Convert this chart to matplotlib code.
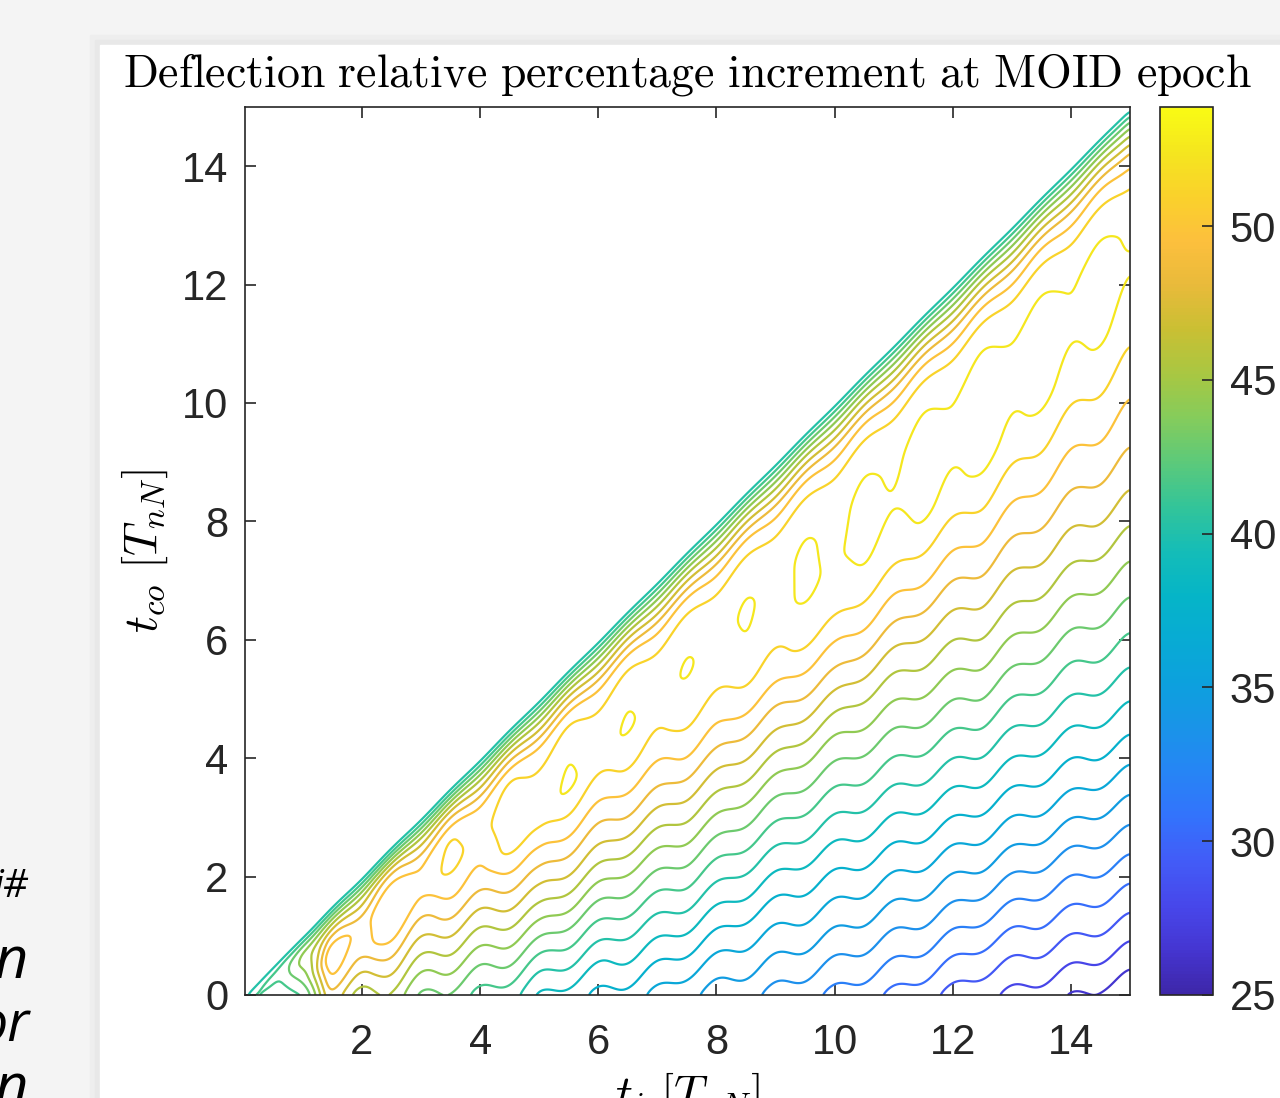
import numpy as np
import matplotlib
matplotlib.use('Agg')
import matplotlib.pyplot as plt
from matplotlib.colors import LinearSegmentedColormap, Normalize
from matplotlib.patches import Rectangle
import matplotlib.cm as cm

plt.rcParams['mathtext.fontset'] = 'cm'
plt.rcParams['font.family'] = 'Liberation Sans'

# parula-like colormap (anchor colours, every 0.05)
parula_rgb = [
    (0.2422, 0.1504, 0.6603), (0.2700, 0.2100, 0.8200), (0.2800, 0.2800, 0.9200),
    (0.2600, 0.3600, 0.9700), (0.2000, 0.4500, 0.9900), (0.1500, 0.5200, 0.9600),
    (0.1000, 0.5800, 0.9100), (0.0500, 0.6300, 0.8700), (0.0300, 0.6700, 0.8300),
    (0.0200, 0.7100, 0.7800), (0.0800, 0.7400, 0.7200), (0.2000, 0.7700, 0.6000),
    (0.3600, 0.7900, 0.4800), (0.5200, 0.8000, 0.3600), (0.6600, 0.7800, 0.2600),
    (0.7900, 0.7500, 0.2000), (0.9100, 0.7300, 0.2300), (0.9900, 0.7500, 0.2400),
    (0.9800, 0.8200, 0.1700), (0.9600, 0.9000, 0.1200), (0.9769, 0.9839, 0.0805),
]
parula = LinearSegmentedColormap.from_list('parula', parula_rgb, N=256)

# colour / level range
z_min = 25.0
z_max = 53.875
n_levels = 20
cbar_ticks = [25, 30, 35, 40, 45, 50]
x_ticks = [2, 4, 6, 8, 10, 12, 14]
y_ticks = [0, 2, 4, 6, 8, 10, 12, 14]

# percentage increment, tabulated against the lag
# d = t_i - t_co, one row per t_i (values past d = t_i only keep rows continuous)
lag_nodes = [-1.0, 0, 0.15, 0.4, 0.8, 1.3, 2, 2.7, 3.5, 4.5, 5.5, 6.5, 7.5, 9, 10.5, 12, 13.5, 15]
ti_nodes = [0.0, 0.6, 1.0, 1.45, 2.2, 3.2, 5.0, 7.5, 10.0, 12.5, 15.0]
pct_ti_00 = [30.0, 39.0, 42.0, 40.6, 38.8, 38.0, 37.5, 37.0, 36.5, 36.0, 35.5, 35.0, 34.5, 34.0, 33.5, 33.0, 32.5, 32.0]
pct_ti_06 = [30.0, 39.0, 42.3, 40.8, 38.8, 38.0, 37.5, 37.0, 36.5, 36.0, 35.5, 35.0, 34.5, 34.0, 33.5, 33.0, 32.5, 32.0]
pct_ti_10 = [30.0, 39.0, 43.2, 46.0, 43.5, 40.0, 38.5, 37.5, 36.5, 35.5, 34.5, 33.5, 32.5, 31.0, 29.5, 28.0, 26.5, 25.0]
pct_ti_14 = [30.0, 39.0, 42.8, 46.5, 50.4, 48.0, 43.5, 40.3, 37.5, 34.7, 31.9, 29.1, 26.3, 22.1, 17.9, 13.7, 9.5, 5.3]
pct_ti_22 = [30.0, 39.0, 43.0, 47.6, 50.3, 50.2, 46.5, 43.3, 40.5, 37.7, 34.9, 32.1, 29.3, 25.1, 20.9, 16.7, 12.5, 8.3]
pct_ti_32 = [30.0, 39.0, 42.6, 47.0, 50.5, 50.8, 48.0, 44.8, 41.4, 38.4, 35.6, 32.8, 30.0, 25.8, 21.6, 17.4, 13.2, 9.0]
pct_ti_50 = [30.0, 39.0, 42.3, 46.2, 50.3, 51.9, 52.3, 49.4, 45.8, 41.0, 36.9, 34.1, 31.3, 27.1, 22.9, 18.7, 14.5, 10.3]
pct_ti_75 = [30.0, 39.0, 42.0, 45.6, 49.6, 51.8, 52.3, 51.6, 49.4, 45.6, 41.9, 38.3, 34.8, 30.6, 26.4, 22.2, 18.0, 13.8]
pct_ti_100 = [30.0, 39.0, 41.9, 45.4, 49.3, 51.6, 52.4, 52.65, 51.7, 48.6, 44.9, 41.75, 38.75, 34.5, 30.25, 26.05, 21.85, 17.65]
pct_ti_125 = [30.0, 39.0, 41.8, 45.2, 49.0, 51.6, 52.9, 53.3, 52.6, 50.4, 47.9, 45.3, 42.6, 38.4, 34.1, 29.5, 25.3, 21.1]
pct_ti_150 = [30.0, 39.0, 41.8, 45.2, 49.0, 51.3, 52.6, 52.9, 52.2, 50.7, 49.1, 47.2, 44.9, 41.5, 37.9, 33.85, 29.7, 25.4]

# ripple along t_i (period 1 T_nN, amplitude)
ripple_period = 1.0
ripple_ti = [0.0, 0.6, 1.45, 2.2, 3.2, 5.0, 7.5, 10.0, 15.0]
ripple_amp = [0.2, 0.35, 1.0, 0.8, 0.6, 0.45, 0.33, 0.3, 0.28]
ripple_taper_lag = [0.0, 0.5]
ripple_taper = [0.2, 1.0]

rows = np.array([pct_ti_00, pct_ti_06, pct_ti_10, pct_ti_14, pct_ti_22, pct_ti_32,
                 pct_ti_50, pct_ti_75, pct_ti_100, pct_ti_125, pct_ti_150])

ti = np.linspace(0, 15, 751)
tco = np.linspace(0, 15, 751)
TI, TCO = np.meshgrid(ti, tco)
LAG = TI - TCO

# along the lag for each table row, then linearly between rows along t_i
per_row = np.array([np.interp(LAG.ravel(), lag_nodes, r) for r in rows])
ti_flat = TI.ravel()
nodes = np.array(ti_nodes)
idx = np.clip(np.searchsorted(nodes, ti_flat) - 1, 0, len(nodes) - 2)
w = (ti_flat - nodes[idx]) / (nodes[idx + 1] - nodes[idx])
cols = np.arange(LAG.size)
Z = (1 - w) * per_row[idx, cols] + w * per_row[idx + 1, cols]
Z = Z.reshape(LAG.shape)

# light smoothing of the table kinks
kern = np.exp(-0.5 * (np.arange(-10, 11) / 3.0) ** 2)
kern /= kern.sum()
Zp = np.pad(Z, 10, mode='edge')
Zp = np.apply_along_axis(lambda v: np.convolve(v, kern, mode='same'), 0, Zp)
Zp = np.apply_along_axis(lambda v: np.convolve(v, kern, mode='same'), 1, Zp)
Z = Zp[10:-10, 10:-10]

amp = np.interp(TI, ripple_ti, ripple_amp) * np.interp(LAG, ripple_taper_lag, ripple_taper)
Z = Z - amp * np.cos(2 * np.pi * TI / ripple_period)
Z = np.where(TCO <= TI, Z, np.nan)

levels = np.linspace(z_min, z_max, n_levels + 2)[1:-1]
norm = Normalize(vmin=z_min, vmax=z_max)

fig = plt.figure(figsize=(12.8, 10.98), dpi=100)
fig.patch.set_facecolor('#f4f4f4')
for off, shade in [(10, '#eeeeee'), (5, '#e8e8e8')]:
    fig.patches.append(Rectangle(((100 - off) / 1280, 0), 1, (1098 - 45 + off) / 1098,
                                 transform=fig.transFigure, color=shade, zorder=-10))
fig.patches.append(Rectangle((100 / 1280, 0), 1, (1098 - 45) / 1098,
                             transform=fig.transFigure, color='white', zorder=-9))

ax = fig.add_axes([245 / 1280, 103 / 1098, 885 / 1280, 888 / 1098])
ax.set_zorder(2)
ax.contour(TI, TCO, Z, levels=levels, cmap=parula, norm=norm, linewidths=1.6)

ax.set_xlim(0.02, 15)
ax.set_ylim(0, 15)
ax.set_xticks(x_ticks)
ax.set_yticks(y_ticks)
ax.tick_params(direction='in', length=8, width=1.2, top=True, right=True,
               labelsize=30, colors='#262626')
ax.tick_params(axis='x', pad=20)
ax.tick_params(axis='y', pad=12)
for s in ax.spines.values():
    s.set_color('#262626')
    s.set_linewidth(1.2)

ax.set_title(r'$\mathrm{Deflection\ relative\ percentage\ increment\ at\ MOID\ epoch}$',
             fontsize=33, pad=15, color='black')
ax.set_xlabel(r'$t_i\ [T_{nN}]$', fontsize=34)
ax.set_ylabel(r'$t_{co}\ [T_{nN}]$', fontsize=34)
ax.xaxis.set_label_coords(0.5, -0.085)
ax.yaxis.set_label_coords(-0.085, 0.5)

cax = fig.add_axes([1160 / 1280, 103 / 1098, 53 / 1280, 888 / 1098])
cax.set_zorder(2)
sm = cm.ScalarMappable(norm=norm, cmap=parula)
cb = fig.colorbar(sm, cax=cax, ticks=cbar_ticks)
cb.ax.tick_params(direction='in', length=8, width=1.2, labelsize=30, pad=12, colors='#262626')
cb.outline.set_edgecolor('#262626')
cb.outline.set_linewidth(1.2)

# fragments of the neighbouring page text
for txt, yb, fs in [('i#', 897, 28), ('in', 978, 42), ('or', 1042, 40), ('on', 1106, 42)]:
    fig.text(29 / 1280, 1 - yb / 1098, txt, ha='right', va='baseline', style='italic',
             fontsize=fs, family='Open Sans')

fig.savefig('out.png', dpi=100)
